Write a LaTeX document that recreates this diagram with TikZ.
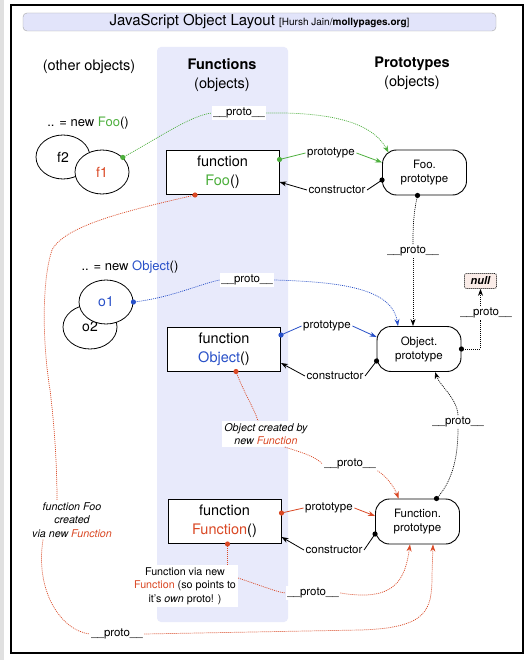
\documentclass[tikz,border=0pt]{standalone}
\usepackage{fontspec}
\setmainfont{TeX Gyre Heros}
\usetikzlibrary{arrows.meta,shapes.geometric}
\definecolor{jsgreen}{RGB}{76,175,60}
\definecolor{jsblue}{RGB}{40,80,200}
\definecolor{jsred}{RGB}{218,72,36}
\definecolor{lav}{RGB}{232,234,251}
\definecolor{titlelav}{RGB}{226,228,250}
\definecolor{nullfill}{RGB}{250,236,232}
\newcommand\jsfs[2]{\fontsize{#1}{#2}\selectfont}
\begin{document}
\begin{tikzpicture}[x=1pt,y=-1pt,
  fnbox/.style={draw,line width=1pt,fill=white,minimum width=113pt,minimum height=44pt,align=center,font=\jsfs{14.5}{19},inner sep=1pt},
  protobox/.style={draw,line width=0.9pt,fill=white,rounded corners=14pt,minimum width=84pt,minimum height=45pt,align=center,font=\jsfs{11.5}{14},inner sep=1pt},
  objell/.style={ellipse,draw,line width=0.8pt,fill=white,minimum width=54pt,minimum height=44pt,inner sep=0pt,font=\jsfs{14}{16}},
  lbl/.style={fill=white,inner sep=1.5pt,font=\jsfs{11.5}{13}},
  note/.style={fill=white,inner sep=2pt,align=center,font=\jsfs{10.7}{13.5}\itshape},
  hdr/.style={align=center,font=\jsfs{14.5}{19}},
  conn/.style={line width=0.8pt},
  dots/.style={line width=0.7pt,dash pattern=on 1pt off 1pt},
  tip/.style={-{Stealth[length=7pt,width=5pt]}}
]
\fill[white] (0,0) rectangle (529,660);
\useasboundingbox (0,0) rectangle (529,660);
\fill[black!12] (0,0) rectangle (4,660);
\draw[line width=1.3pt] (11,5) rectangle (523,653);
\node[draw=black!35,fill=titlelav,rounded corners=4pt,minimum width=473pt,minimum height=18pt,inner sep=0pt] (title) at (259.5,22)
  {\jsfs{15}{17}JavaScript Object Layout {\jsfs{10}{12}[Hursh Jain/\textbf{mollypages.org}]}};
\node[fill=lav,rounded corners=4pt,minimum width=131pt,minimum height=575pt,inner sep=0pt] (col) at (222.5,334.5) {};

% headers
\node[hdr] (hother) at (89,67) {(other objects)};
\node[hdr] (hfun) at (222,75.5) {\textbf{Functions}\\(objects)};
\node[hdr] (hproto) at (412,73.5) {\textbf{Prototypes}\\(objects)};

% main nodes
\node[font=\jsfs{13}{15}] (newfoo) at (88,123) {.. = new \textcolor{jsgreen}{Foo}()};
\node[objell] (f2) at (63,157) {f2};
\node[objell,text=jsred] (f1) at (102,172) {f1};
\node[fnbox] (foo) at (222.5,172.5) {function\\\textcolor{jsgreen}{Foo}()};
\node[protobox] (fooP) at (424.5,172.5) {Foo.\\prototype};

\node[font=\jsfs{13}{15}] (newobj) at (130,267) {.. = new \textcolor{jsblue}{Object}()};
\node[objell] (o2) at (90,327) {\raisebox{-5pt}{o2}};
\node[objell,text=jsblue] (o1) at (106,302) {o1};
\node[fnbox] (obj) at (224,349) {function\\\textcolor{jsblue}{Object}()};
\node[protobox] (objP) at (419,349) {Object.\\prototype};
\node[draw,dots,rounded corners=2pt,fill=nullfill,font=\jsfs{11}{13}\bfseries\itshape,minimum width=32pt,minimum height=15pt,inner sep=0pt] (null) at (480.5,281) {null};

\node[fnbox] (fun) at (224.5,521.5) {function\\\textcolor{jsred}{Function}()};
\node[protobox] (funP) at (417.5,521.5) {Function.\\prototype};

% labels
\node[lbl] (pf1) at (239,113) {\_\_proto\_\_};
\node[lbl] (prF) at (331,153) {prototype};
\node[lbl] (coF) at (337,190) {constructor};
\node[lbl] (pFooP) at (413,251) {\_\_proto\_\_};
\node[lbl] (po1) at (247,280) {\_\_proto\_\_};
\node[lbl] (prO) at (327,326) {prototype};
\node[lbl] (coO) at (335,376) {constructor};
\node[lbl] (pObjP) at (486,313) {\_\_proto\_\_};
\node[note] (ocreated) at (266,434) {Object created by\\new \textcolor{jsred}{Function}};
\node[lbl] (pOC) at (350,464) {\_\_proto\_\_};
\node[lbl] (pFunP) at (458,422) {\_\_proto\_\_};
\node[lbl] (prFn) at (329,508) {prototype};
\node[lbl] (coFn) at (334,550) {constructor};
\node[note] (foocreated) at (72,520) {function Foo\\created\\via new \textcolor{jsred}{Function}};
\node[note,font=\jsfs{10.7}{13.5}] (fnvia) at (185,586) {Function via new\\\textcolor{jsred}{Function} (so points to\\it's \textit{own} proto! )};
\node[lbl] (pFV) at (313,593) {\_\_proto\_\_};
\node[lbl] (pBot) at (117,634) {\_\_proto\_\_};

% f1 -> Foo.prototype
\coordinate (d1) at (f1.35);
\draw[dots,jsgreen] (d1) .. controls (160,137) and (190,116) .. (pf1.west);
\draw[dots,jsgreen,tip] (pf1.east) .. controls (330,112) and (372,122) .. ([xshift=-36pt,yshift=-3pt]fooP.north);
\fill[jsgreen] (d1) circle (2.6pt);

% Foo prototype / constructor
\coordinate (d2) at ([yshift=13pt]foo.east);
\draw[conn,jsgreen] (d2) -- (prF.west);
\draw[conn,jsgreen,tip] (prF.east) -- ([yshift=10pt]fooP.west);
\fill[jsgreen] (d2) circle (2.6pt);
\coordinate (d3) at ([yshift=-7.5pt]fooP.west);
\draw[conn] (d3) -- (coF.east);
\draw[conn,tip] (coF.west) -- ([yshift=-9.5pt]foo.east);
\fill (d3) circle (2.6pt);

% Foo.prototype -> Object.prototype
\coordinate (d4) at ([xshift=-7pt]fooP.south);
\draw[dots] (d4) .. controls (413,215) and (413,230) .. (pFooP.north);
\draw[dots,tip] (pFooP.south) .. controls (413,280) and (413,300) .. ([xshift=-6pt]objP.north);
\fill (d4) circle (2.6pt);

% o1 -> Object.prototype
\coordinate (d5) at (o1.east);
\draw[dots,jsblue] (d5) .. controls (170,298) and (200,284) .. (po1.west);
\draw[dots,jsblue,tip] (po1.east) .. controls (340,282) and (392,288) .. ([xshift=-21pt]objP.north);
\fill[jsblue] (d5) circle (2.6pt);

% Object prototype / constructor
\coordinate (d6) at ([yshift=14pt]obj.east);
\draw[conn,jsblue] (d6) -- (prO.west);
\draw[conn,jsblue,tip] (prO.east) -- ([yshift=12pt]objP.west);
\fill[jsblue] (d6) circle (2.6pt);
\coordinate (d7) at ([yshift=-12pt]objP.west);
\draw[conn] (d7) -- (coO.east);
\draw[conn,tip] (coO.west) -- ([yshift=-14pt]obj.east);
\fill (d7) circle (2.6pt);

% Object.prototype -> null
\coordinate (d8) at (objP.east);
\draw[dots] (d8) -- (d8 -| null.south) -- (null.south |- pObjP.south);
\draw[dots,tip] (null.south |- pObjP.north) -- (null.south);
\fill (d8) circle (2.6pt);

% Function.prototype -> Object.prototype
\coordinate (d9) at ([xshift=19pt]funP.north);
\draw[dots] (d9) .. controls (452,482) and (458,458) .. (pFunP.south);
\draw[dots,tip] (pFunP.north) .. controls (457,398) and (440,386) .. ([xshift=16pt]objP.south);
\fill (d9) circle (2.6pt);

% Function prototype / constructor
\coordinate (d10) at ([yshift=8.5pt]fun.east);
\draw[conn,jsred] (d10) -- (prFn.west);
\draw[conn,jsred,tip] (prFn.east) -- ([yshift=5.5pt]funP.west);
\fill[jsred] (d10) circle (2.6pt);
\coordinate (d11) at ([yshift=-12.5pt]funP.west);
\draw[conn] (d11) -- (coFn.east);
\draw[conn,tip] (coFn.west) -- ([yshift=-15.5pt]fun.east);
\fill (d11) circle (2.6pt);

% function Object -> Function.prototype
\coordinate (d12) at ([xshift=12pt]obj.south);
\draw[dots,jsred] (d12) .. controls (244,393) and (254,408) .. ([xshift=-8pt]ocreated.north);
\draw[dots,jsred] ([xshift=-25pt]ocreated.south east) .. controls (300,452) and (315,456) .. (pOC.west);
\draw[dots,jsred,tip] (pOC.south east) .. controls (385,475) and (394,486) .. ([xshift=-19pt]funP.north);
\fill[jsred] (d12) circle (2.6pt);

% function Function -> Function.prototype
\coordinate (d13) at ([xshift=3pt]fun.south);
\draw[dots,jsred] (d13) -- (d13 |- fnvia.north);
\draw[dots,jsred] ([yshift=8pt]fnvia.east) .. controls (262,586) and (280,593) .. (pFV.west);
\draw[dots,jsred,tip] (pFV.east) .. controls (395,602) and (405,580) .. ([xshift=-7.5pt]funP.south);
\fill[jsred] (d13) circle (2.6pt);

% function Foo -> Function.prototype
\coordinate (d14) at ([xshift=-27.5pt]foo.south);
\draw[dots,jsred] (d14) .. controls (130,210) and (65,225) .. (52,250) .. controls (42,280) and (42,340) .. (50,390) .. controls (55,430) and (57,470) .. ([xshift=-15pt]foocreated.north);
\draw[dots,jsred] ([xshift=-29pt]foocreated.south) .. controls (35,590) and (60,630) .. (pBot.west);
\draw[dots,jsred,tip] (pBot.east) -- (360,630) .. controls (428,628) and (432,610) .. (432,575) -- ([xshift=15.5pt]funP.south);
\fill[jsred] (d14) circle (2.6pt);
\end{tikzpicture}
\end{document}
